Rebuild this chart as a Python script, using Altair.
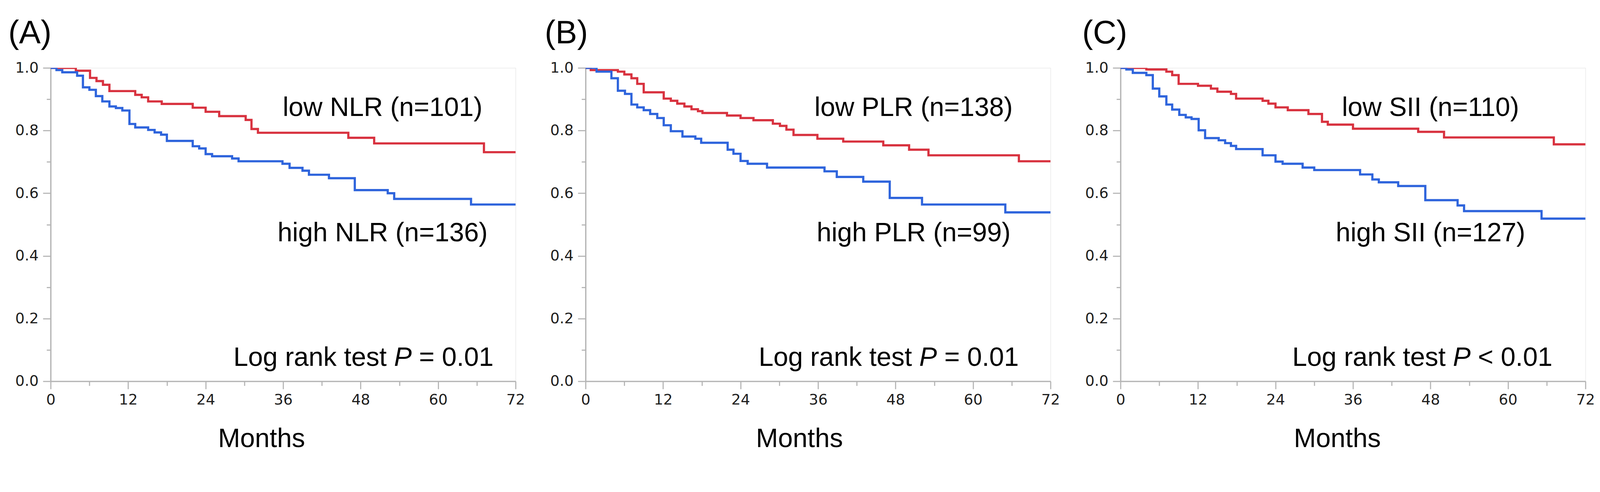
import altair as alt
import pandas as pd

# ---------------- data ----------------
panel_letters = ["(A)", "(B)", "(C)"]
low_labels = ["low NLR (n=101)", "low PLR (n=138)", "low SII (n=110)"]
high_labels = ["high NLR (n=136)", "high PLR (n=99)", "high SII (n=127)"]
p_texts = ["= 0.01", "= 0.01", "< 0.01"]

# Kaplan-Meier step curves: months, survival proportion
A_low_t = [0, 3.9, 6.1, 7.1, 8.1, 9.1, 13.1, 14.1, 15.1, 17.2, 22.0, 24.0, 26.1, 30.2, 31.1, 32.1, 46.1, 50.1, 67.1, 72]
A_low_s = [1.0, 0.991, 0.968, 0.958, 0.946, 0.926, 0.914, 0.906, 0.893, 0.885, 0.873, 0.860, 0.846, 0.834, 0.805, 0.793, 0.777, 0.759, 0.731, 0.731]
A_high_t = [0, 0.9, 1.8, 4.1, 5.0, 6.0, 7.0, 8.0, 9.1, 10.1, 11.1, 12.2, 13.1, 15.1, 16.1, 17.1, 18.0, 22.0, 23.0, 24.0, 25.0, 28.1, 29.1, 35.9, 37.0, 39.0, 40.0, 43.1, 47.1, 52.2, 53.2, 65.1, 72]
A_high_s = [1.0, 0.993, 0.986, 0.975, 0.938, 0.930, 0.910, 0.893, 0.877, 0.872, 0.864, 0.821, 0.810, 0.802, 0.794, 0.787, 0.767, 0.750, 0.743, 0.725, 0.718, 0.711, 0.702, 0.694, 0.681, 0.672, 0.659, 0.648, 0.610, 0.600, 0.582, 0.564, 0.564]

B_low_t = [0, 0.8, 5.0, 6.0, 7.1, 8.0, 9.0, 12.1, 13.2, 14.2, 15.3, 16.4, 17.4, 18.1, 21.9, 24.0, 26.0, 29.0, 30.1, 31.1, 32.2, 35.9, 39.9, 46.1, 50.1, 53.1, 67.1, 72]
B_low_s = [1.0, 0.993, 0.988, 0.979, 0.967, 0.949, 0.922, 0.902, 0.895, 0.886, 0.877, 0.868, 0.862, 0.856, 0.848, 0.840, 0.833, 0.822, 0.815, 0.803, 0.786, 0.774, 0.765, 0.753, 0.739, 0.721, 0.702, 0.702]
B_high_t = [0, 1.7, 4.0, 5.0, 6.1, 7.1, 8.0, 9.0, 10.0, 11.1, 12.1, 13.2, 15.0, 17.0, 17.9, 22.0, 22.9, 24.0, 25.1, 28.1, 37.0, 38.9, 43.0, 47.1, 52.1, 65.0, 72]
B_high_s = [1.0, 0.988, 0.967, 0.927, 0.917, 0.883, 0.874, 0.865, 0.853, 0.840, 0.817, 0.798, 0.781, 0.774, 0.761, 0.739, 0.726, 0.703, 0.694, 0.682, 0.670, 0.652, 0.637, 0.585, 0.564, 0.539, 0.539]

C_low_t = [0, 4.0, 7.1, 8.0, 9.0, 12.0, 14.0, 15.0, 17.1, 17.9, 22.0, 22.9, 24.0, 25.9, 29.1, 31.2, 32.1, 36.0, 46.1, 50.1, 67.1, 72]
C_low_s = [1.0, 0.995, 0.988, 0.977, 0.949, 0.943, 0.934, 0.924, 0.917, 0.902, 0.895, 0.886, 0.874, 0.865, 0.853, 0.828, 0.819, 0.806, 0.796, 0.778, 0.756, 0.756]
C_high_t = [0, 0.9, 1.9, 4.0, 5.0, 6.0, 7.1, 8.0, 9.1, 10.1, 11.0, 12.1, 13.1, 15.2, 16.2, 17.1, 17.9, 22.0, 24.0, 25.1, 28.2, 30.0, 37.1, 39.0, 40.0, 43.0, 47.2, 52.2, 53.2, 65.2, 72]
C_high_s = [1.0, 0.995, 0.984, 0.977, 0.934, 0.909, 0.883, 0.867, 0.850, 0.842, 0.837, 0.801, 0.776, 0.769, 0.760, 0.751, 0.741, 0.721, 0.701, 0.694, 0.682, 0.674, 0.660, 0.644, 0.635, 0.623, 0.578, 0.561, 0.543, 0.519, 0.519]

curves = [
    (A_low_t, A_low_s, A_high_t, A_high_s),
    (B_low_t, B_low_s, B_high_t, B_high_s),
    (C_low_t, C_low_s, C_high_t, C_high_s),
]

# annotation anchor points (data coordinates: months, survival)
group_label_x = [51.4, 50.8, 48.0]
low_label_y = 0.846
high_label_y = 0.4465
logrank_x = [28.3, 26.8, 26.6]
logrank_y = 0.049
months_title_x = [572, 580, 588]
letter_dx = [-115, -111, -104]

x_ticks = list(range(0, 73, 6))
y_ticks = [round(i * 0.1, 1) for i in range(11)]

RED = "#d8323f"
BLUE = "#2e64dc"
GRAY = "#b4b4b4"
TXT = "Liberation Sans"


def panel(i):
    lt, ls, ht, hs = curves[i]
    df = pd.concat([
        pd.DataFrame({"t": lt, "s": ls, "g": "low"}),
        pd.DataFrame({"t": ht, "s": hs, "g": "high"}),
    ])
    x_axis = alt.Axis(
        values=x_ticks,
        labelExpr="datum.value % 12 == 0 ? datum.value : ''",
        tickSize={"condition": {"test": "datum.value % 12 != 0", "value": 12}, "value": 21},
        labelFont="DejaVu Sans", labelFontSize=40, labelColor="#1e1e1e",
        labelPadding=10, labelFlush=False, labelOverlap=False,
        domainColor=GRAY, domainWidth=3.5, tickColor=GRAY, tickWidth=3,
        grid=False,
        title="Months", titleFont=TXT, titleFontSize=72, titleFontWeight="normal",
        titleColor="black", titleX=months_title_x[i], titleY=178,
        titleAlign="center", titleBaseline="alphabetic",
    )
    y_axis = alt.Axis(
        values=y_ticks,
        labelExpr="round(datum.value*10) % 2 == 0 ? format(datum.value, '.1f') : ''",
        tickSize={"condition": {"test": "round(datum.value*10) % 2 == 1", "value": 11}, "value": 21},
        labelFont="DejaVu Sans", labelFontSize=40, labelColor="#1e1e1e",
        labelPadding=12, labelOverlap=False, labelFlush=False,
        domainColor=GRAY, domainWidth=3.5, tickColor=GRAY, tickWidth=3,
        grid=False, title=None,
    )
    lines = alt.Chart(df).mark_line(interpolate="step-after", strokeWidth=6, clip=True).encode(
        x=alt.X("t:Q", scale=alt.Scale(domain=[0, 72], nice=False, zero=True), axis=x_axis),
        y=alt.Y("s:Q", scale=alt.Scale(domain=[0, 1], nice=False), axis=y_axis),
        color=alt.Color("g:N", scale=alt.Scale(domain=["low", "high"], range=[RED, BLUE]), legend=None),
        detail="g:N",
    )
    lab_df = pd.DataFrame({
        "x": [group_label_x[i], group_label_x[i]],
        "y": [low_label_y, high_label_y],
        "txt": [low_labels[i], high_labels[i]],
    })
    labels = alt.Chart(lab_df).mark_text(
        font=TXT, fontSize=72, align="center", baseline="alphabetic", color="black"
    ).encode(x="x:Q", y="y:Q", text="txt:N")

    lr_df = pd.DataFrame({"x": [logrank_x[i]], "y": [logrank_y]})
    base_lr = alt.Chart(lr_df)
    lr1 = base_lr.mark_text(font=TXT, fontSize=72, align="left", baseline="alphabetic",
                            color="black").encode(x="x:Q", y="y:Q", text=alt.value("Log rank test"))
    lr2 = base_lr.mark_text(font=TXT, fontSize=72, align="left", baseline="alphabetic",
                            fontStyle="italic", color="black", dx=436).encode(
        x="x:Q", y="y:Q", text=alt.value("P"))
    lr3 = base_lr.mark_text(font=TXT, fontSize=72, align="left", baseline="alphabetic",
                            color="black", dx=504).encode(x="x:Q", y="y:Q", text=alt.value(p_texts[i]))

    return alt.layer(lines, labels, lr1, lr2, lr3).properties(
        width=1262, height=851,
        title=alt.TitleParams(
            text=panel_letters[i], anchor="start", frame="group", dx=letter_dx[i],
            offset=-41, baseline="alphabetic", font=TXT, fontSize=88,
            fontWeight="normal", color="black",
        ),
    )


chart = alt.hconcat(panel(0), panel(1), panel(2), spacing=190, bounds="flush").properties(
    padding={"left": 13, "top": 2, "right": 5, "bottom": 5}
).configure_view(stroke=GRAY, strokeWidth=3.5).configure(background="white")

chart.save("out.html", embed_options={"renderer": "svg", "actions": False})
